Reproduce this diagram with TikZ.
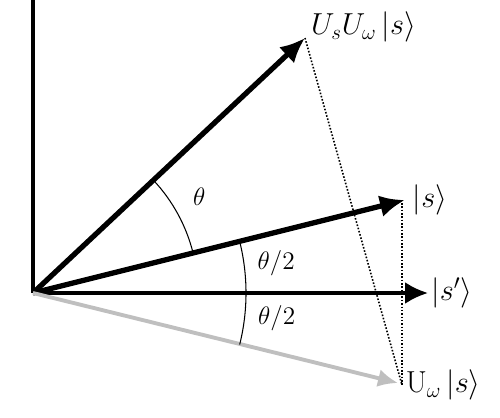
\documentclass[tikz,border=0pt]{standalone}
\usepackage{amsmath,amssymb}
\usetikzlibrary{calc,arrows.meta}

\begin{document}
\begin{tikzpicture}
			\useasboundingbox (-0.66,-2.48) rectangle (9.34,5.86);
			\coordinate (O) at (0,0);
			\coordinate (Sp) at (7.9,0);
			\coordinate (S) at (7.44,1.86);
			\coordinate (USW) at (5.44,5.10);
			\coordinate (UW) at (7.30,-1.80);
			\coordinate (M) at (7.38,-1.84);
			\coordinate (T) at (7.38,1.80);
			\coordinate (Top) at (0,5.9);
			\draw[line width=2.2pt] (O)--(Top);
			\draw[line width=1.9pt,-{Latex[length=4.6mm,width=4.4mm]}] (O)--(Sp)node[right,inner sep=1pt]{\LARGE\(\left\lvert s'\right\rangle\)};
			\draw[line width=3pt,-{Latex[length=5mm,width=4.4mm]}] (O)--(S)node[right,inner sep=3pt]{\LARGE\(\left\lvert s\right\rangle\)};
			\draw[line width=3pt,-{Latex[length=5mm,width=4.4mm]}] (O)--(USW)node[right,yshift=0.22cm,inner sep=2pt]{\LARGE\(U_sU_\omega\left\lvert s\right\rangle\)};
			\draw[line width=2.2pt,gray!50,-{Latex[length=4mm,width=3.6mm]}] (O)--(UW);
			\node[right,inner sep=2pt] (uwlabel) at (M) {\LARGE\(\mathrm{U}_\omega\left\lvert s\right\rangle\)};
			\draw[densely dotted,line width=0.9pt] (USW)--(M);
			\draw[densely dotted,line width=0.9pt] (T)--(M);
			\draw[line width=0.6pt] (14:3.3) arc (14:43:3.3);
			\draw[line width=0.6pt] (-14:4.26) arc (-14:14:4.26);
			\node (th) at (30:3.84) {\Large\(\theta\)};
			\node (th1) at (7:4.9) {\Large\(\theta/2\)};
			\node (th2) at (-6:4.9) {\Large\(\theta/2\)};
		\end{tikzpicture}
\end{document}
